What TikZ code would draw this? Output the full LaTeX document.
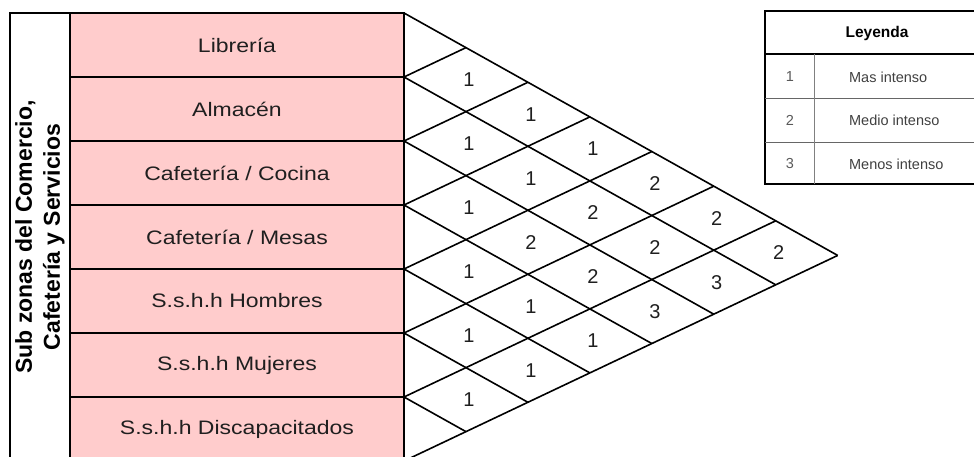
\documentclass[tikz,border=0pt]{standalone}
\usepackage{fontspec}
\setmainfont{Liberation Sans}
\newfontfamily\rowfont[FakeStretch=1.18]{Liberation Sans}
\definecolor{zonapink}{RGB}{255,204,204}
\begin{document}
\begin{tikzpicture}[x=1pt,y=-1pt,line width=1.6pt,
 rowbox/.style={draw,fill=zonapink,minimum width=334pt,minimum height=64pt,inner sep=0pt,
  font=\rowfont\fontsize{19.5}{22}\selectfont,text=black!88},
 cell/.style={font=\fontsize{20}{22}\selectfont,text=black!88},
 leytext/.style={font=\fontsize{14.5}{16}\selectfont,text=black!75}]
\useasboundingbox (0,0) rectangle (974,456);
\clip (0,0) rectangle (974,456);
\pgfmathsetmacro{\sa}{0.559}
\pgfmathsetmacro{\sb}{0.474}
\foreach \k in {0,...,7}{\coordinate (p\k) at (404,13+64*\k);}
\foreach \k in {0,...,6}{
 \pgfmathtruncatemacro{\kk}{\k+1}
 \foreach \m in {\kk,...,7}{
  \pgfmathsetmacro{\dx}{64*(\m-\k)/(\sa+\sb)}
  \coordinate (c\k\m) at (404+\dx,13+64*\k+\sa*\dx);
 }
}
\node[draw,rotate=90,minimum width=448pt,minimum height=60pt,inner sep=0pt,align=center,
 font=\bfseries\fontsize{23}{28}\selectfont] (zona) at (40,237) {Sub zonas del Comercio,\\Cafetería y Servicios};
\foreach \j/\txt in {0/Librería,1/Almacén,2/{Cafetería / Cocina},3/{Cafetería / Mesas},
 4/S.s.h.h Hombres,5/S.s.h.h Mujeres,6/S.s.h.h Discapacitados}{
 \node[rowbox] (r\j) at (237,45+64*\j) {\txt};
}
\foreach \k in {0,...,6}{\draw (p\k) -- (c\k7);}
\foreach \m in {1,...,7}{\draw (p\m) -- (c0\m);}
\foreach \i/\j/\v in {0/1/1,1/2/1,2/3/1,3/4/1,4/5/1,5/6/1,
 0/2/1,1/3/1,2/4/2,3/5/1,4/6/1,0/3/1,1/4/2,2/5/2,3/6/1,
 0/4/2,1/5/2,2/6/3,0/5/2,1/6/3,0/6/2}{
 \pgfmathsetmacro{\dx}{64*(\j-\i)/(\sa+\sb)}
 \node[cell] (n\i\j) at (407+\dx,45+64*\i+\sa*\dx) {\v};
}
\draw[line width=1.3pt] (765,11) rectangle (990,184);
\draw[line width=1.3pt] (765,54) -- (990,54);
\draw[black!60,line width=0.9pt] (765,98) -- (990,98) (765,142) -- (990,142);
\draw[black!50,line width=0.6pt] (814,54) -- (814,184);
\node[font=\bfseries\fontsize{15.5}{17}\selectfont] (ley) at (877,33) {Leyenda};
\foreach \j/\v/\txt in {0/1/Mas intenso,1/2/Medio intenso,2/3/Menos intenso}{
 \node[leytext,text=black!65] (lnum\j) at (790,77+43.5*\j) {\v};
 \node[leytext,anchor=west] (ltxt\j) at (845,77+43.5*\j) {\txt};
}
\end{tikzpicture}
\end{document}
